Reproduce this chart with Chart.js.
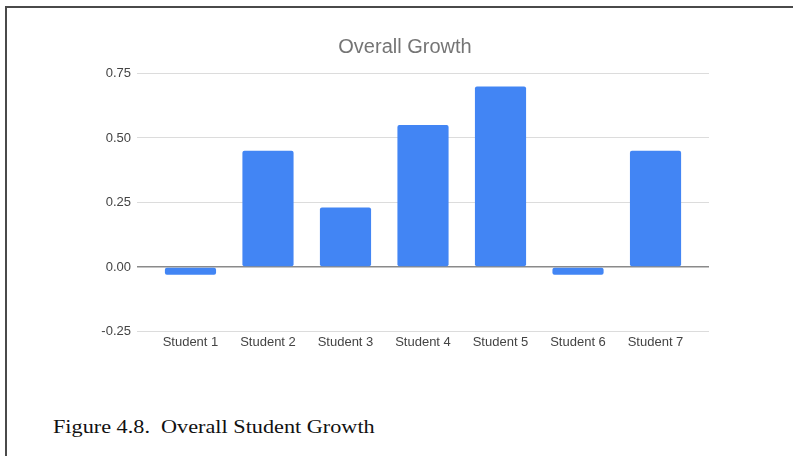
<!DOCTYPE html>
<html>
<head>
<meta charset="utf-8">
<script src="https://cdn.jsdelivr.net/npm/chart.js@4"></script>
<style>
    html, body { margin: 0; padding: 0; background: #fff; }
    body { width: 793px; height: 456px; position: relative; overflow: hidden; }
    #frame {
        position: absolute; left: 5px; top: 6px; right: 0; bottom: 0;
        border-top: 2px solid #4a4a4a; border-left: 2px solid #4a4a4a;
    }
    #chartBox { position: absolute; left: 0; top: 0; width: 793px; height: 363px; }
    #caption {
        position: absolute; left: 53px; top: 417px;
        font-family: "Liberation Serif", "Times New Roman", serif;
        font-size: 19px; line-height: 19px; color: #111; white-space: pre;
        transform: scaleX(1.17); transform-origin: left top;
    }
</style>
</head>
<body>
<div id="frame"></div>
<div id="chartBox"><canvas id="growthChart"></canvas></div>
<div id="caption">Figure 4.8.  Overall Student Growth</div>
<script>
const students = ["Student 1", "Student 2", "Student 3", "Student 4", "Student 5", "Student 6", "Student 7"];
const growth = [-0.03, 0.45, 0.23, 0.55, 0.70, -0.03, 0.45];
const yTicks = [-0.25, 0, 0.25, 0.5, 0.75];

const tickFont = { family: "Arial, 'Liberation Sans', sans-serif", size: 13 };

const ctx = document.getElementById("growthChart").getContext("2d");

new Chart(ctx, {
    type: "bar",
    data: {
        datasets: [{
            label: "Overall Growth",
            data: students.map((s, i) => ({ x: i, y: growth[i] })),
            backgroundColor: "#4285f4",
            borderRadius: 2,
            borderSkipped: false,
            barPercentage: 0.66,
            categoryPercentage: 1
        }]
    },
    options: {
        animation: false,
        responsive: true,
        maintainAspectRatio: false,
        layout: {
            padding: { top: 35, right: 84, bottom: 10, left: 101 }
        },
        plugins: {
            legend: { display: false },
            tooltip: { enabled: false },
            title: {
                display: true,
                text: "Overall Growth",
                color: "#757575",
                font: { family: "Arial, 'Liberation Sans', sans-serif", size: 20, weight: "normal" },
                padding: { top: 0, bottom: 14.5 }
            }
        },
        scales: {
            x: {
                type: "linear",
                offset: false,
                min: -0.69,
                max: 6.69,
                afterBuildTicks: (scale) => {
                    scale.ticks = students.map((s, i) => ({ value: i }));
                },
                grid: { display: false, drawTicks: false },
                border: { display: false },
                ticks: {
                    color: "#444",
                    padding: 3,
                    maxRotation: 0,
                    autoSkip: false,
                    font: tickFont,
                    callback: (value) => students[value]
                }
            },
            y: {
                min: -0.25,
                max: 0.75,
                afterFit: (scale) => { scale.width = 36; },
                afterBuildTicks: (scale) => {
                    scale.ticks = yTicks.map((v) => ({ value: v }));
                },
                grid: {
                    drawTicks: false,
                    color: (c) => (c.tick && c.tick.value === 0 ? "#8a8a8a" : "#dcdcdc"),
                    lineWidth: (c) => (c.tick && c.tick.value === 0 ? 1.5 : 1)
                },
                border: { display: false },
                ticks: {
                    color: "#444",
                    padding: 6,
                    font: tickFont,
                    callback: (value) => Number(value).toFixed(2)
                }
            }
        }
    }
});
</script>
</body>
</html>
